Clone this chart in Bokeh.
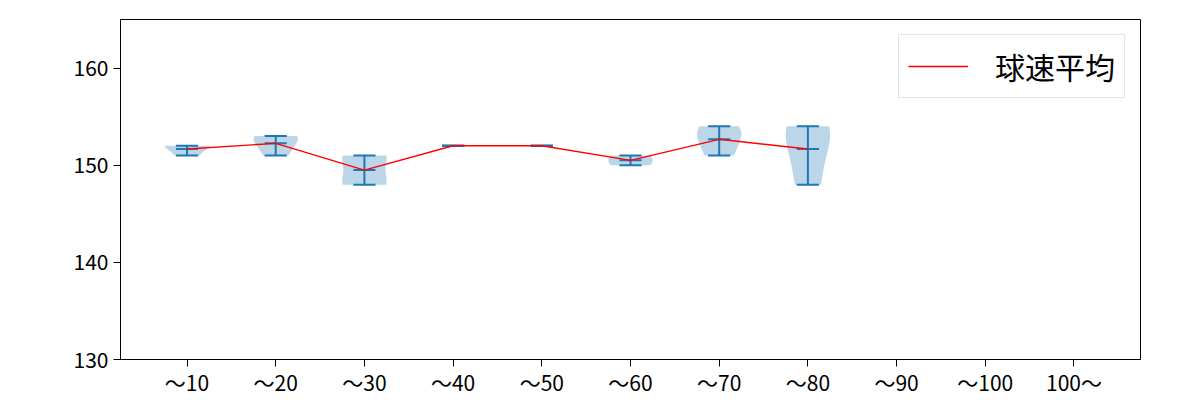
import numpy as np
from bokeh.plotting import figure
from bokeh.models import Range1d, FixedTicker, Legend, LegendItem
from bokeh.embed import file_html
from bokeh.resources import INLINE

categories = ["～10", "～20", "～30", "～40", "～50", "～60", "～70", "～80", "～90", "～100", "100～"]
speeds_10 = [151, 152, 152]
speeds_20 = [151, 152, 153, 153]
speeds_30 = [148, 148, 151, 151]
speeds_40 = [152]
speeds_50 = [152]
speeds_60 = [150, 151]
speeds_70 = [151, 153, 154]
speeds_80 = [148, 153, 154]
speeds_90 = []
speeds_100 = []
speeds_100p = []
all_speeds = [speeds_10, speeds_20, speeds_30, speeds_40, speeds_50, speeds_60,
              speeds_70, speeds_80, speeds_90, speeds_100, speeds_100p]
y_ticks = [130, 140, 150, 160]

FONT = "Noto Sans CJK JP"
BLUE = "#1f77b4"
HALF = 0.25  # half of violin width

p = figure(width=1200, height=400, output_backend="svg", toolbar_location=None,
           x_range=Range1d(-0.75, 10.75), y_range=Range1d(130, 165),
           min_border_left=120, min_border_right=60, min_border_top=19, min_border_bottom=41)
p.xgrid.visible = False
p.ygrid.visible = False
p.outline_line_color = "black"
p.outline_line_width = 1
p.background_fill_color = "white"
p.border_fill_color = "white"

# violin bodies via gaussian KDE (Scott's rule)
vx, vy = [], []
for i, d in enumerate(all_speeds):
    if len(d) < 2:
        continue
    arr = np.asarray(d, dtype=float)
    var = np.var(arr, ddof=1)
    if var == 0:
        continue
    bw2 = var * len(arr) ** (-2 / 5)
    coords = np.linspace(arr.min(), arr.max(), 100)
    dens = np.exp(-(coords[:, None] - arr[None, :]) ** 2 / (2 * bw2)).sum(axis=1)
    dens = dens / dens.max() * HALF
    vx.append(list(i - dens) + list((i + dens)[::-1]))
    vy.append(list(coords) + list(coords[::-1]))
p.patches(vx, vy, fill_color=BLUE, fill_alpha=0.3, line_color=None)

pos, mins, maxs, means = [], [], [], []
for i, d in enumerate(all_speeds):
    if len(d) == 0:
        continue
    pos.append(i)
    mins.append(min(d))
    maxs.append(max(d))
    means.append(float(np.mean(d)))
pos = np.array(pos, dtype=float)

p.segment(x0=pos, y0=mins, x1=pos, y1=maxs, line_color=BLUE, line_width=2)
for vals in (mins, maxs, means):
    p.segment(x0=pos - HALF / 2, y0=vals, x1=pos + HALF / 2, y1=vals, line_color=BLUE, line_width=2)

r = p.line(pos, means, line_color="red", line_width=1.4)

legend = Legend(items=[LegendItem(label="球速平均", renderers=[r])], location="top_right")
legend.label_text_font = FONT
legend.label_text_font_size = "30px"
legend.label_text_color = "black"
legend.label_text_line_height = 0.9
legend.glyph_width = 60
legend.glyph_height = 20
legend.label_height = 20
legend.label_standoff = 27
legend.padding = 9
legend.margin = 15
legend.border_line_color = "#cccccc"
legend.border_line_width = 1
legend.background_fill_alpha = 0.8
p.add_layout(legend)

p.xaxis.ticker = FixedTicker(ticks=list(range(len(categories))))
p.xaxis.major_label_overrides = {i: c for i, c in enumerate(categories)}
p.yaxis.ticker = FixedTicker(ticks=y_ticks)
for ax in (p.xaxis, p.yaxis):
    ax.major_label_text_font = FONT
    ax.major_label_text_font_size = "21px"
    ax.major_label_text_color = "black"
    ax.axis_line_color = "black"
    ax.major_tick_line_color = "black"
    ax.major_tick_out = 7
    ax.major_tick_in = 0
    ax.minor_tick_line_color = None
p.xaxis.major_label_standoff = 0
p.yaxis.major_label_standoff = 5

open("out.html", "w").write(file_html(p, INLINE))
